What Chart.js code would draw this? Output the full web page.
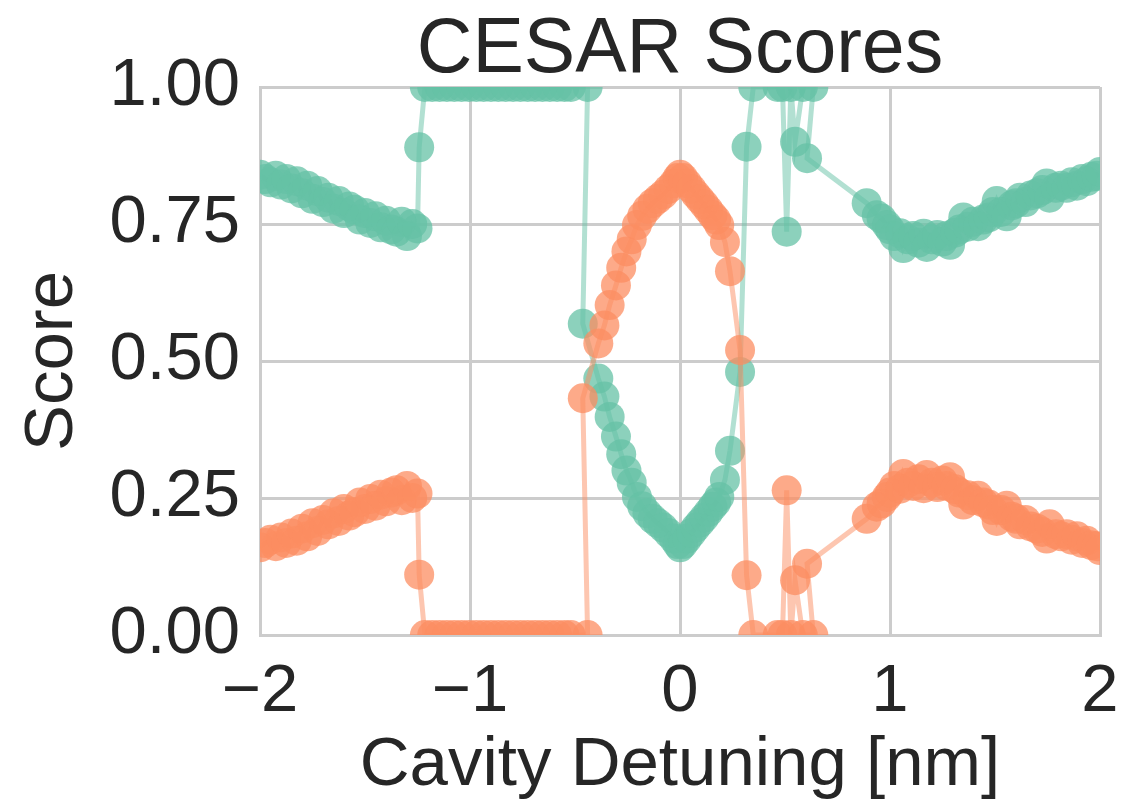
<!DOCTYPE html>
<html>
<head>
<meta charset="utf-8">
<script src="https://cdn.jsdelivr.net/npm/chart.js@4.4.1/dist/chart.umd.min.js"></script>
<style>
  html, body { margin: 0; padding: 0; background: #ffffff; }
</style>
</head>
<body>
<canvas id="cesarChart" width="1140" height="803"></canvas>
<script>
// cavity detuning [nm] (order as plotted, not strictly sorted)
const detuning = [
  -2.000, -1.975, -1.950, -1.925, -1.900, -1.875, -1.850, -1.825, -1.800, -1.775,
  -1.750, -1.725, -1.700, -1.675, -1.650, -1.625, -1.600, -1.575, -1.550, -1.525,
  -1.500, -1.475, -1.450, -1.425, -1.400, -1.375, -1.350, -1.325, -1.300, -1.275,
  -1.250, -1.242,
  -1.215, -1.180, -1.145, -1.110, -1.075, -1.040, -1.005, -0.970, -0.935, -0.900,
  -0.865, -0.830, -0.795, -0.760, -0.725, -0.690, -0.655, -0.620, -0.585, -0.550,
  -0.520, -0.440,
  -0.463, -0.389, -0.360, -0.335, -0.305, -0.280, -0.255, -0.230, -0.205, -0.180,
  -0.155, -0.130, -0.105, -0.080, -0.055, -0.030, -0.012, 0.000, 0.015, 0.035,
  0.055, 0.075, 0.095, 0.115, 0.135, 0.155, 0.172, 0.187, 0.214, 0.238, 0.286,
  0.317, 0.349, 0.465, 0.488, 0.508, 0.528, 0.548, 0.585, 0.635, 0.605, 0.889,
  0.937, 0.960, 0.985, 1.000, 1.020, 1.048, 1.063, 1.085, 1.110, 1.135,
  1.160, 1.175, 1.200, 1.225, 1.250, 1.270, 1.286, 1.310, 1.330, 1.349,
  1.370, 1.395, 1.420, 1.444, 1.470, 1.490, 1.508, 1.530, 1.556, 1.580,
  1.600, 1.619, 1.645, 1.670, 1.700, 1.725, 1.746, 1.760, 1.790, 1.815,
  1.841, 1.865, 1.890, 1.915, 1.937, 1.960, 1.985, 2.000
];

// green series
const scoreGreen = [
  0.840, 0.832, 0.826, 0.838, 0.822, 0.832, 0.815, 0.828, 0.806, 0.820,
  0.796, 0.810, 0.790, 0.798, 0.778, 0.792, 0.770, 0.782, 0.776, 0.758,
  0.770, 0.752, 0.764, 0.744, 0.756, 0.740, 0.736, 0.754, 0.728, 0.750,
  0.742, 0.890,
  1.000, 1.000, 1.000, 1.000, 1.000, 1.000, 1.000, 1.000, 1.000, 1.000,
  1.000, 1.000, 1.000, 1.000, 1.000, 1.000, 1.000, 1.000, 1.000, 1.000,
  1.000, 1.000,
  0.568, 0.468, 0.435, 0.398, 0.362, 0.330, 0.300, 0.278, 0.252, 0.235,
  0.222, 0.212, 0.204, 0.196, 0.186, 0.176, 0.166, 0.160, 0.166, 0.176,
  0.186, 0.196, 0.205, 0.214, 0.224, 0.234, 0.242, 0.252, 0.283, 0.336, 0.480,
  0.891, 1.000, 1.000, 1.000, 0.736, 1.000, 0.900, 1.000, 1.000, 0.870, 0.788,
  0.766, 0.760, 0.748, 0.740, 0.728, 0.733, 0.706, 0.722, 0.728, 0.716,
  0.732, 0.708, 0.722, 0.730, 0.718, 0.728, 0.712, 0.734, 0.740, 0.762,
  0.745, 0.754, 0.746, 0.758, 0.762, 0.772, 0.792, 0.772, 0.764, 0.784,
  0.788, 0.798, 0.790, 0.802, 0.806, 0.812, 0.824, 0.798, 0.816, 0.820,
  0.816, 0.826, 0.820, 0.832, 0.828, 0.836, 0.838, 0.845
];

// orange series
const scoreOrange = [
  0.160, 0.168, 0.174, 0.162, 0.178, 0.168, 0.185, 0.172, 0.194, 0.180,
  0.204, 0.190, 0.210, 0.202, 0.222, 0.208, 0.230, 0.218, 0.224, 0.242,
  0.230, 0.248, 0.236, 0.256, 0.244, 0.260, 0.264, 0.246, 0.272, 0.250,
  0.258, 0.110,
  0.000, 0.000, 0.000, 0.000, 0.000, 0.000, 0.000, 0.000, 0.000, 0.000,
  0.000, 0.000, 0.000, 0.000, 0.000, 0.000, 0.000, 0.000, 0.000, 0.000,
  0.000, 0.000,
  0.432, 0.532, 0.565, 0.602, 0.638, 0.670, 0.700, 0.722, 0.748, 0.765,
  0.778, 0.788, 0.796, 0.804, 0.814, 0.824, 0.834, 0.840, 0.834, 0.824,
  0.814, 0.804, 0.795, 0.786, 0.776, 0.766, 0.758, 0.748, 0.717, 0.664, 0.520,
  0.109, 0.000, 0.000, 0.000, 0.264, 0.000, 0.100, 0.000, 0.000, 0.130, 0.212,
  0.234, 0.240, 0.252, 0.260, 0.272, 0.267, 0.294, 0.278, 0.272, 0.284,
  0.268, 0.292, 0.278, 0.270, 0.282, 0.272, 0.288, 0.266, 0.260, 0.238,
  0.255, 0.246, 0.254, 0.242, 0.238, 0.228, 0.208, 0.228, 0.236, 0.216,
  0.212, 0.202, 0.210, 0.198, 0.194, 0.188, 0.176, 0.202, 0.184, 0.180,
  0.184, 0.174, 0.180, 0.168, 0.172, 0.164, 0.162, 0.155
];

const xTicks = [-2, -1, 0, 1, 2];
const yTicks = [0, 0.25, 0.5, 0.75, 1];
const chartTitle = 'CESAR Scores';

const textColor = '#262626';
const gridColor = '#cccccc';
const fontFamily = '"Liberation Sans", Arial, Helvetica, sans-serif';

function toPoints(values) {
  return detuning.map((x, i) => ({ x: x, y: values[i] }));
}

// title centred over the plot area, like the original figure
const plotTitle = {
  id: 'plotTitle',
  afterDraw(chart) {
    const c = chart.ctx;
    const area = chart.chartArea;
    c.save();
    c.fillStyle = textColor;
    c.font = '77px ' + fontFamily;
    c.textAlign = 'center';
    c.textBaseline = 'alphabetic';
    c.fillText(chartTitle, (area.left + area.right) / 2, 72);
    c.restore();
  }
};

const ctx = document.getElementById('cesarChart').getContext('2d');
const cesarChart = new Chart(ctx, {
  type: 'line',
  data: {
    datasets: [
      {
        label: 'orange',
        data: toPoints(scoreOrange),
        borderColor: 'rgba(252, 141, 98, 0.5)',
        backgroundColor: 'rgba(252, 141, 98, 0.75)',
        borderWidth: 5,
        pointRadius: 15,
        pointBorderWidth: 0,
        pointBackgroundColor: 'rgba(252, 141, 98, 0.75)',
        tension: 0,
        clip: 0
      },
      {
        label: 'green',
        data: toPoints(scoreGreen),
        borderColor: 'rgba(102, 194, 165, 0.5)',
        backgroundColor: 'rgba(102, 194, 165, 0.75)',
        borderWidth: 5,
        pointRadius: 15,
        pointBorderWidth: 0,
        pointBackgroundColor: 'rgba(102, 194, 165, 0.75)',
        tension: 0,
        clip: 0
      }
    ]
  },
  plugins: [plotTitle],
  options: {
    responsive: false,
    animation: false,
    devicePixelRatio: 1,
    layout: { padding: { left: 0, right: 40, top: 87, bottom: 0 } },
    plugins: {
      legend: { display: false },
      tooltip: { enabled: false },
      title: { display: false }
    },
    scales: {
      x: {
        type: 'linear',
        min: -2,
        max: 2,
        afterBuildTicks: scale => { scale.ticks = xTicks.map(v => ({ value: v })); },
        afterFit: scale => { scale.height = 168; },
        grid: { color: gridColor, lineWidth: 3, drawTicks: false },
        border: { color: gridColor, width: 3 },
        ticks: {
          color: textColor,
          padding: 17,
          font: { family: fontFamily, size: 67 },
          callback: v => (v < 0 ? '\u2212' + Math.abs(v) : String(v))
        },
        title: {
          display: true,
          text: 'Cavity Detuning [nm]',
          color: textColor,
          font: { family: fontFamily, size: 69 },
          padding: { top: 0, bottom: -4 }
        }
      },
      y: {
        type: 'linear',
        min: 0,
        max: 1,
        afterBuildTicks: scale => { scale.ticks = yTicks.map(v => ({ value: v })); },
        afterFit: scale => { scale.width = 260; },
        grid: { color: gridColor, lineWidth: 3, drawTicks: false },
        border: { color: gridColor, width: 3 },
        ticks: {
          color: textColor,
          padding: 20,
          font: { family: fontFamily, size: 67 },
          callback: v => Number(v).toFixed(2)
        },
        title: {
          display: true,
          text: 'Score',
          color: textColor,
          font: { family: fontFamily, size: 69 },
          padding: { top: 12, bottom: 0 }
        }
      }
    }
  }
});
</script>
</body>
</html>
